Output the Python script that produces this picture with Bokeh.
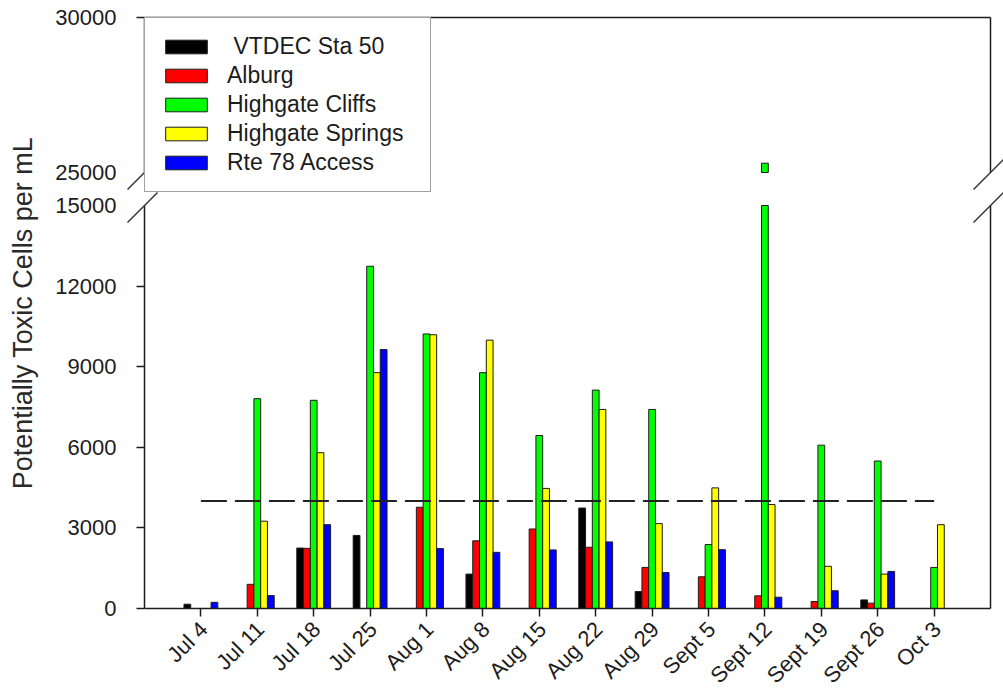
from math import pi

import numpy as np
from bokeh.core.properties import value
from bokeh.embed import file_html
from bokeh.models import (ColumnDataSource, CustomJSTransform, FixedTicker,
                          Legend, LegendItem, Range1d)
from bokeh.plotting import figure
from bokeh.resources import INLINE
from bokeh.transform import dodge, transform

# Sampling dates (weekly)
dates = ["Jul 4", "Jul 11", "Jul 18", "Jul 25", "Aug 1", "Aug 8", "Aug 15",
         "Aug 22", "Aug 29", "Sept 5", "Sept 12", "Sept 19", "Sept 26", "Oct 3"]

# Potentially toxic cells per mL at each station
vtdec_sta_50 = [160, 0, 2250, 2720, 0, 1280, 0, 3740, 630, 0, 0, 0, 320, 0]
alburg = [0, 900, 2240, 0, 3770, 2520, 2960, 2280, 1530, 1180, 470, 260, 200, 0]
highgate_cliffs = [0, 7810, 7750, 12740, 10220, 8780, 6440, 8130, 7410, 2380, 25300, 6080, 5490, 1530]
highgate_springs = [0, 3250, 5800, 8780, 10190, 9990, 4470, 7410, 3160, 4490, 3870, 1570, 1280, 3120]
rte_78_access = [230, 480, 3120, 9640, 2230, 2090, 2180, 2480, 1340, 2190, 420, 660, 1380, 0]

station_names = ["VTDEC Sta 50", "Alburg", "Highgate Cliffs", "Highgate Springs", "Rte 78 Access"]
station_values = [vtdec_sta_50, alburg, highgate_cliffs, highgate_springs, rte_78_access]
station_colors = ["#000000", "#ff0000", "#00ff00", "#ffff00", "#0000ff"]

# Alert level
threshold = 4000

# Y axis: labelled values, and the ones that also get a tick mark
y_labels = [0, 3000, 6000, 9000, 12000, 15000, 25000, 30000]
y_marked = [0, 3000, 6000, 9000, 12000, 30000]

# Broken y axis: 0-15000 on the lower segment, 25000-30000 on the upper one
LOWER_MAX = 15000
UPPER_MIN = 25000
UPPER_MAX = 30000
GAP = 1230          # axis units left blank between the two segments
K = 1.154           # the upper segment is drawn slightly stretched


def to_axis(v):
    if v <= LOWER_MAX:
        return v
    if v >= UPPER_MIN:
        return LOWER_MAX + GAP + (v - UPPER_MIN) * K
    return LOWER_MAX + GAP * (v - LOWER_MAX) / (UPPER_MIN - LOWER_MAX)


brk = CustomJSTransform(
    args=dict(lo=LOWER_MAX, hi=UPPER_MIN, gap=GAP, k=K),
    v_func="""
        const out = new Float64Array(xs.length);
        for (let i = 0; i < xs.length; i++) {
            const v = xs[i];
            if (v <= lo) out[i] = v;
            else if (v >= hi) out[i] = lo + gap + (v - hi) * k;
            else out[i] = lo + gap * (v - lo) / (hi - lo);
        }
        return out;
    """,
)

FONT = "Liberation Sans"
INK = "#1c1c1c"

FRAME_W, FRAME_H = 846, 591
y_top = to_axis(UPPER_MAX)
n = len(dates)
x_left, x_right = -1, n

p = figure(frame_width=FRAME_W, frame_height=FRAME_H,
           min_border_left=144, min_border_right=13, min_border_top=17, min_border_bottom=81,
           x_range=Range1d(x_left, x_right), y_range=Range1d(0, y_top),
           output_backend="svg", toolbar_location=None,
           background_fill_color="white", border_fill_color="white")
p.outline_line_color = None
p.xgrid.visible = False
p.ygrid.visible = False

# Bar data: lower piece clipped at the break, upper piece only above it
data = dict(x=np.arange(n, dtype=float), date=dates,
            up_base=np.full(n, float(UPPER_MIN)))
for i, vals in enumerate(station_values):
    arr = np.array(vals, dtype=float)
    data[f"low{i}"] = np.minimum(arr, LOWER_MAX)
    data[f"up{i}"] = np.where(arr > UPPER_MIN, arr, np.nan)
src = ColumnDataSource(data)

BAR_W = 0.12
offsets = [-2 * BAR_W, -BAR_W, 0.0, BAR_W, 2 * BAR_W]
legend_items = []
for i, (name, color, off) in enumerate(zip(station_names, station_colors, offsets)):
    r = p.vbar(x=dodge("x", off), width=BAR_W, bottom=0, top=transform(f"low{i}", brk),
               fill_color=color, line_color=INK, line_width=1, source=src)
    p.vbar(x=dodge("x", off), width=BAR_W, bottom=transform("up_base", brk),
           top=transform(f"up{i}", brk),
           fill_color=color, line_color=INK, line_width=1, source=src)
    legend_items.append(LegendItem(label=("\u00a0" + name) if i == 0 else name, renderers=[r]))

# Dashed alert level across the sampling period
p.line(x=[0, n - 1], y=[threshold, threshold], line_color="#222222",
       line_width=2, line_dash="26 8")

# X axis: tick marks from the axis, rotated date labels set a little below it
xa = p.xaxis[0]
xa.ticker = FixedTicker(ticks=[], minor_ticks=list(range(n)))
xa.major_tick_line_color = None
xa.minor_tick_in = 0
xa.minor_tick_out = 8
xa.minor_tick_line_color = INK
xa.minor_tick_line_width = 1.5
xa.axis_line_color = INK
xa.axis_line_width = 1.5

p.text(x="x", y=0, text="date", source=src, angle=pi / 4,
       text_align="right", text_baseline="middle", x_offset=3, y_offset=17,
       text_font=value(FONT), text_font_size="22px", text_color=INK, level="overlay")

# Y axis: every value labelled, tick marks only away from the break
ya = p.yaxis[0]
ya.ticker = FixedTicker(ticks=[int(round(to_axis(t))) for t in y_labels],
                        minor_ticks=[int(round(to_axis(t))) for t in y_marked])
ya.major_label_overrides = {int(round(to_axis(t))): str(t) for t in y_labels}
ya.major_label_text_font = FONT
ya.major_label_text_font_size = "22px"
ya.major_label_text_color = INK
ya.major_label_standoff = 20
ya.major_tick_in = 0
ya.major_tick_out = 0
ya.major_tick_line_color = None
ya.minor_tick_in = 0
ya.minor_tick_out = 8
ya.minor_tick_line_color = INK
ya.minor_tick_line_width = 1.5
ya.axis_line_color = None
ya.axis_label = "Potentially Toxic Cells per mL"
ya.axis_label_text_font = FONT
ya.axis_label_text_font_size = "27px"
ya.axis_label_text_font_style = "normal"
ya.axis_label_text_color = "#2a2a2a"
ya.axis_label_standoff = 14

# Frame border, interrupted at the break
y_lo_end = to_axis(LOWER_MAX)
y_up_start = to_axis(UPPER_MIN)
p.segment(x0=[x_left, x_left, x_left, x_right, x_right],
          y0=[y_top, 0, y_up_start, 0, y_up_start],
          x1=[x_right, x_left, x_left, x_right, x_right],
          y1=[y_top, y_lo_end, y_top, y_lo_end, y_top],
          line_color=INK, line_width=1.5, level="overlay")

# Break marks: short 45-degree slashes across both side borders
x_per_px = (x_right - x_left) / FRAME_W
y_per_px = y_top / FRAME_H
sx0, sx1, sy0, sy1 = [], [], [], []
for xe in (x_left, x_right):
    for yb in (y_lo_end, y_up_start):
        sx0.append(xe - 17 * x_per_px)
        sx1.append(xe + 13 * x_per_px)
        sy0.append(yb - 17 * y_per_px)
        sy1.append(yb + 13 * y_per_px)
p.segment(x0=sx0, y0=sy0, x1=sx1, y1=sy1, line_color="#333333", line_width=1.5,
          level="overlay")

legend = Legend(items=legend_items, location="top_left", margin=0, padding=15, spacing=2,
                glyph_width=52, glyph_height=17, label_standoff=15, label_width=188,
                label_text_font=FONT, label_text_font_size="23px", label_text_color=INK,
                border_line_color="#444444", border_line_width=1.5,
                background_fill_color="white", background_fill_alpha=1.0)
legend.level = "overlay"
p.add_layout(legend)

open("out.html", "w").write(file_html(p, INLINE))
